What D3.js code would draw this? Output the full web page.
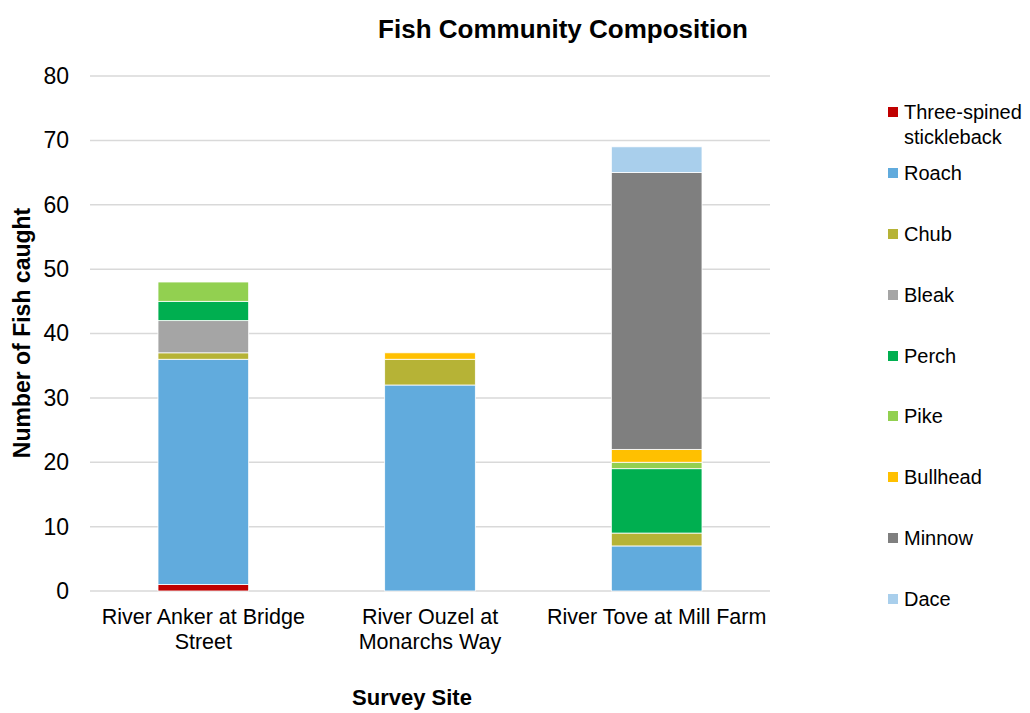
<!DOCTYPE html>
<html>
<head>
<meta charset="utf-8">
<script src="https://cdn.jsdelivr.net/npm/d3@7"></script>
<style>
  body { margin: 0; background: #fff; }
  svg text { font-family: "Liberation Sans", Arial, sans-serif; fill: #000; }
</style>
</head>
<body>
<div id="chart"></div>
<script>
const sites = ["River Anker at Bridge Street", "River Ouzel at Monarchs Way", "River Tove at Mill Farm"];
const siteLines = [["River Anker at Bridge", "Street"], ["River Ouzel at", "Monarchs Way"], ["River Tove at Mill Farm"]];
const species = ["Three-spined stickleback", "Roach", "Chub", "Bleak", "Perch", "Pike", "Bullhead", "Minnow", "Dace"];
const colors = ["#C00000", "#61ABDD", "#B6B336", "#A5A5A5", "#00AF50", "#92D050", "#FFC000", "#7F7F7F", "#A9CFEC"];

// counts per species, in the order of sites
const stickleback = [1, 0, 0];
const roach = [35, 32, 7];
const chub = [1, 4, 2];
const bleak = [5, 0, 0];
const perch = [3, 0, 10];
const pike = [3, 0, 1];
const bullhead = [0, 1, 2];
const minnow = [0, 0, 43];
const dace = [0, 0, 4];

const yTicks = [0, 10, 20, 30, 40, 50, 60, 70, 80];

const series = [stickleback, roach, chub, bleak, perch, pike, bullhead, minnow, dace];
const table = sites.map((s, i) => {
    const row = { site: s };
    species.forEach((sp, j) => row[sp] = series[j][i]);
    return row;
});

const width = 1030, height = 713;
const margin = { left: 90, right: 260, top: 76, bottom: 122 };

const svg = d3.select("#chart").append("svg")
    .attr("width", width)
    .attr("height", height);

const x = d3.scaleBand()
    .domain(sites)
    .range([margin.left, width - margin.right])
    .paddingInner(0.6)
    .paddingOuter(0.3);

const y = d3.scaleLinear()
    .domain([0, 80])
    .range([height - margin.bottom, margin.top]);

// gridlines
svg.append("g")
    .selectAll("line")
    .data(yTicks)
    .join("line")
    .attr("x1", margin.left)
    .attr("x2", width - margin.right)
    .attr("y1", d => y(d))
    .attr("y2", d => y(d))
    .attr("stroke", "#D9D9D9")
    .attr("stroke-width", 1.5);

// y axis labels
const yAxis = d3.axisLeft(y).tickValues(yTicks).tickSize(0).tickPadding(21);
svg.append("g")
    .attr("transform", `translate(${margin.left},0)`)
    .call(yAxis)
    .call(g => g.select(".domain").remove())
    .selectAll("text")
    .style("font-size", "23px")
    .style("font-family", "Liberation Sans, Arial, sans-serif")
    .attr("fill", "#000");

// stacked bars
const stacked = d3.stack().keys(species)(table);
const color = d3.scaleOrdinal().domain(species).range(colors);

svg.append("g")
    .selectAll("g")
    .data(stacked)
    .join("g")
    .attr("fill", d => color(d.key))
    .selectAll("rect")
    .data(d => d.filter(v => v[1] > v[0]))
    .join("rect")
    .attr("x", d => x(d.data.site))
    .attr("width", x.bandwidth())
    .attr("y", d => y(d[1]))
    .attr("height", d => y(d[0]) - y(d[1]))
    .attr("stroke", "#fff")
    .attr("stroke-width", 0.8);

// x labels
const xl = svg.append("g");
sites.forEach((s, i) => {
    const t = xl.append("text")
        .attr("x", x(s) + x.bandwidth() / 2)
        .attr("y", 624)
        .attr("text-anchor", "middle")
        .style("font-size", "21.5px");
    siteLines[i].forEach((line, k) => {
        t.append("tspan")
            .attr("x", x(s) + x.bandwidth() / 2)
            .attr("dy", k === 0 ? 0 : 25)
            .text(line);
    });
});

// titles
svg.append("text")
    .attr("x", 563)
    .attr("y", 38)
    .attr("text-anchor", "middle")
    .style("font-size", "26px")
    .style("font-weight", "bold")
    .text("Fish Community Composition");

svg.append("text")
    .attr("x", 412)
    .attr("y", 705)
    .attr("text-anchor", "middle")
    .style("font-size", "22px")
    .style("font-weight", "bold")
    .text("Survey Site");

svg.append("text")
    .attr("transform", "translate(30,333) rotate(-90)")
    .attr("text-anchor", "middle")
    .style("font-size", "23px")
    .style("font-weight", "bold")
    .text("Number of Fish caught");

// legend
const legendY = [112, 173, 234, 295, 356, 416, 477, 538, 599];
const legend = svg.append("g");
species.forEach((sp, i) => {
    const g = legend.append("g").attr("transform", `translate(888,${legendY[i]})`);
    g.append("rect")
        .attr("x", 0)
        .attr("y", -5)
        .attr("width", 10)
        .attr("height", 10)
        .attr("fill", colors[i]);
    const t = g.append("text")
        .attr("x", 16)
        .attr("y", 7)
        .style("font-size", "20px");
    if (sp === "Three-spined stickleback") {
        t.append("tspan").attr("x", 16).text("Three-spined");
        t.append("tspan").attr("x", 16).attr("dy", 25).text("stickleback");
    } else {
        t.text(sp);
    }
});
</script>
</body>
</html>
